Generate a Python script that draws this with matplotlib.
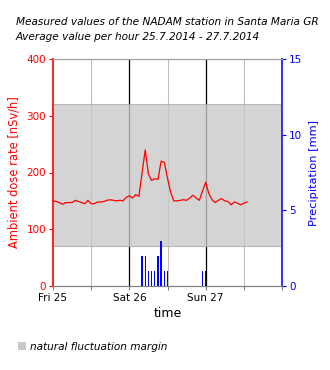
import matplotlib
matplotlib.use("Agg")
import matplotlib.pyplot as plt
from matplotlib.patches import Rectangle

# ---- data ----
dose_hours = list(range(62))
dose_values = [150, 149, 147, 144, 147, 147, 147, 151, 149, 147,
               145, 151, 145, 145, 148, 148, 149, 151, 152, 151,
               150, 151, 150, 156, 159, 155, 161, 158, 199, 240,
               197, 186, 189, 188, 220, 218, 190, 165, 150, 150,
               151, 152, 151, 155, 160, 155, 151, 167, 183, 163,
               152, 147, 151, 154, 150, 149, 143, 148, 146, 143,
               146, 148]
precip_hours = [28, 29, 30, 31, 32, 33, 34, 35, 36, 47, 48]
precip_values = [2, 2, 1, 1, 1, 2, 3, 1, 1, 1, 1]
band_low, band_high = 70, 320
day_ticks = [0, 24, 48]
day_labels = ["Fri 25", "Sat 26", "Sun 27"]
half_day_ticks = [12, 36, 60]
title_lines = ["Measured values of the NADAM station in Santa Maria GR",
               "Average value per hour 25.7.2014 - 27.7.2014"]

fig = plt.figure(figsize=(3.3, 3.7), dpi=100)
ax = fig.add_axes([53/330, 1-286/370, (282-53)/330, (286-59)/370])
ax2 = ax.twinx()

ax.set_xlim(0, 72)
ax.set_ylim(0, 400)
ax2.set_ylim(0, 15)

# grid lines
for h in half_day_ticks:
    ax.axvline(h, color="#c0c0c0", lw=0.8, zorder=0)
for h in day_ticks[1:]:
    ax.axvline(h, color="black", lw=0.9, zorder=0)

# fluctuation band
ax.add_patch(Rectangle((0, band_low), 72, band_high - band_low,
                       facecolor="#c8c8c8", alpha=0.78,
                       edgecolor="#a8a8a8", lw=0.8, zorder=1))

ax.plot(dose_hours, dose_values, color="#ff0000", lw=0.9, zorder=3)
ax2.bar(precip_hours, precip_values, width=0.45, color="#0000ff",
        align="center", zorder=3)

# spines
ax.spines["left"].set_color("#ff2020")
ax.spines["left"].set_linewidth(1.4)
ax2.spines["left"].set_visible(False)
ax.spines["right"].set_visible(False)
ax2.spines["right"].set_color("#3030ff")
ax2.spines["right"].set_linewidth(1.4)
for a in (ax, ax2):
    a.spines["top"].set_color("#a0a0a0")
    a.spines["top"].set_linewidth(0.8)
    a.spines["bottom"].set_color("#808080")
    a.spines["bottom"].set_linewidth(0.8)

ax.set_yticks([0, 100, 200, 300, 400])
ax.tick_params(axis="y", colors="#ff0000", labelsize=7.5, length=3, width=0.8, pad=2)
ax2.set_yticks([0, 5, 10, 15])
ax2.tick_params(axis="y", colors="#0000ff", labelsize=7.5, length=3, width=0.8, pad=2)

xt = sorted(day_ticks + half_day_ticks + [72])
xl = [day_labels[day_ticks.index(t)] if t in day_ticks else "" for t in xt]
ax.set_xticks(xt)
ax.set_xticklabels(xl)
ax.tick_params(axis="x", colors="#808080", labelcolor="black", labelsize=7.5,
               length=3, width=0.8, pad=2)

ax.set_ylabel("Ambient dose rate [nSv/h]", color="#ff0000", fontsize=8.3, labelpad=4)
ax2.set_ylabel("Precipitation [mm]", color="#0000ff", fontsize=8.2, labelpad=5)
ax.set_xlabel("time", fontsize=9, labelpad=3)

fig.text(16/330, 1-25/370, title_lines[0], fontsize=7.6, style="italic",
         ha="left", va="baseline")
fig.text(16/330, 1-40/370, title_lines[1], fontsize=7.6, style="italic",
         ha="left", va="baseline")

fig.patches.append(Rectangle((18/330, 1-350/370), 8/330, 8/370,
                             transform=fig.transFigure, facecolor="#c8c8c8",
                             edgecolor="none"))
fig.text(30/330, 1-350/370, "natural fluctuation margin", fontsize=7.6,
         style="italic", ha="left", va="baseline")

fig.savefig("out.png", dpi=100)
